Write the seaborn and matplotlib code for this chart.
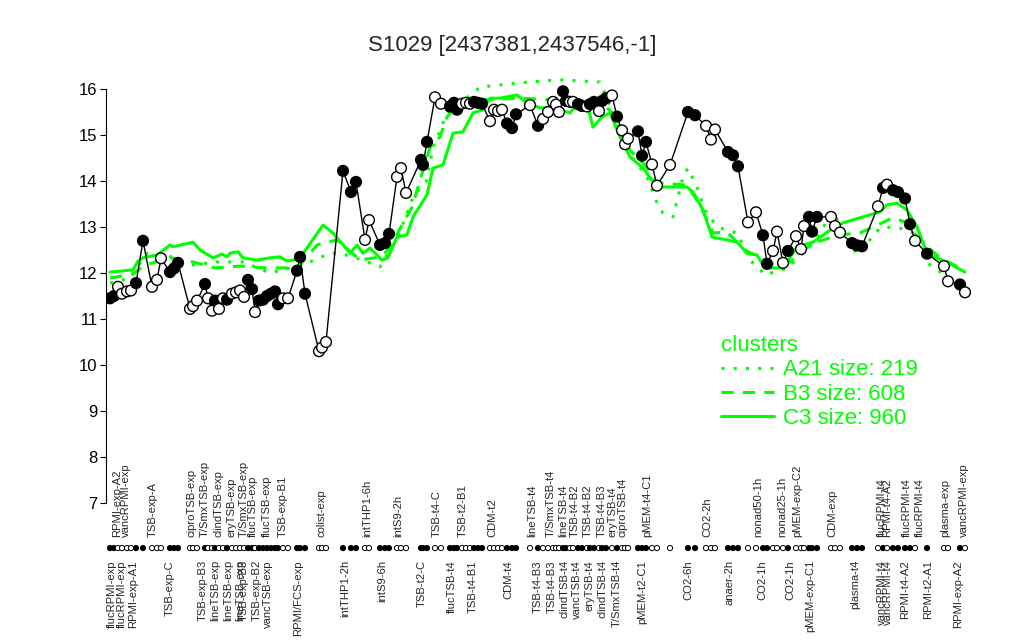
import matplotlib
matplotlib.use("Agg")
import matplotlib.pyplot as plt
import seaborn as sns
import pandas as pd
from matplotlib.lines import Line2D

sns.set_theme(style="white")
plt.rcParams['font.family'] = ['Liberation Sans', 'DejaVu Sans']

# ---------------- data ----------------
sample_pos = [0.0, 0.8, 1.6, 2.4, 3.4, 4.2, 5.2, 6.6, 8.4, 9.4, 10.2, 12.0, 12.8, 13.6,
              16.0, 16.6, 17.4, 19.0, 19.6, 20.4, 21.0, 21.8, 22.6, 23.4, 24.4, 25.2, 26.0,
              26.8, 27.6, 28.4, 29.0, 29.8, 30.6, 31.4, 32.2, 33.0, 33.6, 34.6, 35.6, 37.4,
              38.0, 39.0, 41.8, 42.4, 43.2, 46.6, 48.2, 49.2, 51.0, 51.8, 54.0, 55.0, 55.8,
              57.4, 58.2, 59.2, 62.2, 62.6, 63.4, 65.0, 66.2, 68.0, 68.8, 69.4, 70.4, 71.2,
              72.0, 72.8, 73.6, 74.4, 76.0, 76.8, 77.6, 78.4, 79.4, 80.4, 81.2, 84.0, 85.6,
              86.6, 87.6, 88.6, 89.2, 89.8, 90.6, 91.2, 92.0, 92.6, 93.6, 94.4, 95.4, 96.0,
              96.8, 97.8, 98.4, 99.2, 100.4, 101.4, 102.4, 103.0, 103.6, 105.6, 106.4, 107.2,
              108.4, 109.4, 112.0, 115.6, 117.0, 119.2, 120.2, 121.0, 123.6, 124.6, 125.6,
              127.6, 129.2, 130.6, 131.4, 132.6, 133.4, 134.6, 135.6, 137.2, 138.2, 138.8,
              139.8, 140.4, 141.4, 144.2, 145.0, 146.0, 148.4, 149.4, 150.4, 153.6, 154.6,
              155.4, 156.6, 157.6, 159.0, 160.0, 161.0, 163.4, 166.8, 167.6, 170.0, 171.0]
sample_val = [11.45, 11.50, 11.70, 11.55, 11.60, 11.62, 11.78, 12.70, 11.70, 11.85, 12.32,
              12.02, 12.10, 12.22, 11.22, 11.28, 11.40, 11.76, 11.45, 11.18, 11.40, 11.22,
              11.45, 11.42, 11.55, 11.58, 11.62, 11.48, 11.85, 11.65, 11.15, 11.40, 11.42,
              11.50, 11.55, 11.60, 11.32, 11.45, 11.45, 12.05, 12.35, 11.55, 10.30, 10.38,
              10.50, 14.22, 13.76, 13.98, 12.72, 13.15, 12.61, 12.65, 12.85, 14.09, 14.28,
              13.74, 14.46, 14.35, 14.85, 15.82, 15.68, 15.62, 15.70, 15.55, 15.68, 15.70,
              15.68, 15.72, 15.70, 15.68, 15.30, 15.55, 15.52, 15.55, 15.25, 15.15, 15.45,
              15.65, 15.20, 15.35, 15.50, 15.72, 15.66, 15.50, 15.95, 15.74, 15.72, 15.72,
              15.67, 15.63, 15.62, 15.67, 15.72, 15.52, 15.74, 15.80, 15.86, 15.40, 15.10,
              14.80, 14.92, 15.08, 14.55, 14.85, 14.36, 13.90, 14.35, 15.50, 15.43, 15.20,
              14.90, 15.12, 14.63, 14.56, 14.32, 13.10, 13.32, 12.82, 12.20, 12.48, 12.90,
              12.22, 12.48, 12.80, 12.52, 13.02, 13.22, 12.90, 13.22, 13.22, 13.02, 12.88,
              12.65, 12.60, 12.58, 13.45, 13.85, 13.92, 13.80, 13.76, 13.62, 13.06, 12.70,
              12.42, 12.15, 11.82, 11.75, 11.58]
sample_filled = [1, 1, 0, 0, 0, 0, 1, 1, 0, 0, 0, 1, 1, 1,
                 0, 0, 0, 1, 0, 0, 1, 0, 0, 1, 0, 0, 0,
                 0, 1, 1, 0, 1, 1, 1, 1, 1, 1, 0, 0, 1,
                 1, 1, 0, 0, 0, 1, 1, 1, 0, 0, 1, 1, 1,
                 0, 0, 0, 1, 1, 1, 0, 0, 1, 1, 1, 0, 0,
                 0, 1, 1, 1, 0, 0, 0, 0, 1, 1, 1, 0, 1,
                 0, 0, 0, 0, 0, 1, 1, 0, 0, 1, 1, 0, 1,
                 1, 0, 1, 1, 0, 1, 0, 0, 0, 1, 1, 1,
                 0, 0, 0, 1, 1, 0, 0, 0, 1, 1, 1,
                 0, 0, 1, 1, 0, 0, 0, 1, 0, 0, 0,
                 1, 1, 1, 0, 0, 0, 1, 1, 1, 0, 1,
                 0, 1, 1, 1, 1, 0, 1, 0, 0, 1, 0]

bottom_labels = ["flucRPMI-exp", "flucRPMI-exp", "RPMI-exp-A1", "TSB-exp-C", "TSB-exp-B3",
                 "lineTSB-exp", "lineTSB-exp", "lineTSB-exp", "TSB-exp-B3", "TSB-exp-B2",
                 "vancTSB-exp", "RPMI/FCS-exp", "intTHP1-2h", "intS9-6h", "TSB-t2-C",
                 "flucTSB-t4", "TSB-t4-B1", "CDM-t4", "TSB-t4-B3", "TSB-t4-B3", "clindTSB-t4",
                 "vancTSB-t4", "eryTSB-t4", "clindTSB-t4", "T/SmxTSB-t4", "pMEM-t2-C1",
                 "CO2-6h", "anaer-2h", "CO2-1h", "CO2-1h", "pMEM-exp-C1", "plasma-t4",
                 "vancRPMI-t4", "vancRPMI-t4", "RPMI-t4-A2", "RPMI-t2-A1", "RPMI-exp-A2"]
bottom_pos = [0.4, 2.4, 4.6, 12.0, 18.6, 21.0, 23.6, 26.0, 26.8, 29.4, 31.6, 37.6, 47.0,
              54.4, 62.4, 68.4, 72.6, 79.6, 85.6, 88.4, 91.0, 93.4, 96.0, 98.6, 101.4,
              106.4, 115.6, 124.0, 130.4, 136.0, 140.0, 149.0, 154.4, 155.6, 159.0, 163.6,
              169.6]
top_labels = ["RPMI-exp-A2", "vancRPMI-exp", "TSB-exp-A", "ciproTSB-exp", "T/SmxTSB-exp",
              "clindTSB-exp", "eryTSB-exp", "T/SmxTSB-exp", "flucTSB-exp", "flucTSB-exp",
              "TSB-exp-B1", "colist-exp", "intTHP1-6h", "intS9-2h", "TSB-t4-C", "TSB-t2-B1",
              "CDM-t2", "lineTSB-t4", "T/SmxTSB-t4", "lineTSB-t4", "TSB-t4-B2", "TSB-t4-B2",
              "TSB-t4-B3", "eryTSB-t4", "ciproTSB-t4", "pMEM-t4-C1", "CO2-2h", "nonad50-1h",
              "nonad25-1h", "pMEM-exp-C2", "CDM-exp", "flucRPMI-t4", "RPMI-t4-A2",
              "flucRPMI-t4", "flucRPMI-t4", "plasma-exp", "vancRPMI-exp"]
top_pos = [1.4, 3.2, 8.6, 16.4, 19.0, 21.6, 24.4, 26.8, 28.6, 31.4, 34.6, 42.4, 51.4, 57.6,
           65.4, 70.6, 76.4, 84.4, 88.2, 90.6, 93.0, 95.6, 98.4, 100.4, 102.4, 107.4, 119.4,
           129.6, 134.4, 137.4, 144.4, 154.4, 155.4, 159.4, 162.0, 167.0, 170.8]

a21_pos = [0, 4, 7.4, 11.4, 16, 21.4, 26.6, 32, 36, 40, 44, 46, 50.6, 54, 58, 60.6, 63.4,
           64.6, 65.4, 67.4, 72.6, 74, 78, 83.4, 90, 98, 100.6, 103.4, 107.4, 109.4, 110.6,
           112.6, 114.6, 115.6, 117.4, 119, 120.4, 122, 125.4, 128, 131, 135.6, 140.6,
           144.6, 149.4, 154, 157.4, 160.6, 164, 168.4]
a21_val = [11.78, 11.89, 12.43, 12.39, 12.17, 12.24, 12.24, 12.00, 12.11, 12.24, 12.43,
           12.43, 12.28, 12.13, 12.89, 13.65, 14.02, 14.74, 14.93, 15.48, 15.91, 16.04,
           16.09, 16.15, 16.20, 16.15, 15.48, 14.67, 14.09, 13.52, 13.30, 13.22, 14.09,
           14.28, 13.87, 13.37, 13.15, 12.98, 12.87, 12.28, 11.96, 12.11, 12.65, 13.33,
           12.39, 12.98, 13.00, 12.87, 12.17, 11.85]
b3_pos = [0, 4.6, 7, 12, 16.6, 21, 26, 31, 36, 38, 41.4, 45.4, 50, 54, 56, 58.6, 60.4, 62,
          64, 66, 67.4, 69.4, 74, 82, 90, 98, 101, 104, 107, 109.4, 115.4, 118, 120.6,
          123.4, 127, 130, 133, 136, 140.6, 146, 150, 153.4, 156.6, 159, 162, 166, 170]
b3_val = [11.89, 11.98, 12.17, 12.33, 12.24, 12.11, 12.15, 12.11, 12.11, 12.17, 12.61,
          12.72, 12.28, 12.35, 12.54, 13.09, 13.43, 14.02, 14.72, 14.96, 15.39, 15.65,
          15.76, 15.80, 15.76, 15.72, 15.43, 14.67, 14.35, 13.96, 13.91, 13.48, 12.87,
          12.89, 12.50, 12.33, 12.17, 12.24, 12.65, 12.83, 12.87, 13.04, 13.20, 13.11,
          12.72, 12.33, 12.11]
c3_pos = [0, 2, 4.6, 5.6, 6.6, 9.4, 12, 12.6, 16.6, 18, 20.6, 22.4, 23.4, 24, 25.6, 26.6,
          29.4, 32, 34, 35.4, 36.6, 38, 42.6, 44.6, 48, 49.4, 50.6, 52, 54.4, 55.6, 57.4,
          59.4, 60.6, 63.4, 64.6, 66.6, 68.6, 70.6, 72.6, 74.4, 76, 78, 81.4, 83.4, 86,
          88.6, 92, 94, 95.4, 96.6, 98.4, 100, 102, 104, 106.6, 109.4, 115.4, 116.6, 118.6,
          120.4, 123.4, 125.4, 127.4, 129.4, 131, 134.6, 137.4, 140.6, 144, 146.6, 154,
          155.4, 157.4, 159.4, 161.4, 163.4, 167.6, 171]
c3_val = [12.02, 12.04, 12.07, 12.26, 12.33, 12.39, 12.61, 12.57, 12.67, 12.50, 12.33,
          12.41, 12.35, 12.43, 12.46, 12.33, 12.28, 12.33, 12.35, 12.26, 12.28, 12.33,
          13.04, 12.87, 12.43, 12.61, 12.43, 12.54, 12.28, 12.33, 12.78, 12.83, 13.22,
          13.70, 14.28, 14.35, 15.04, 15.07, 15.48, 15.54, 15.80, 15.80, 15.87, 15.70,
          15.59, 15.59, 15.48, 15.76, 15.70, 15.17, 15.39, 15.48, 14.96, 14.52, 14.28,
          13.87, 13.87, 13.76, 13.37, 12.78, 12.72, 12.67, 12.43, 12.39, 12.11, 12.11,
          12.57, 12.67, 12.93, 13.09, 13.33, 13.48, 13.52, 13.37, 13.00, 12.43, 12.22,
          12.02]

cluster_labels = ["A21 size: 219", "B3 size: 608", "C3 size: 960"]
title = "S1029 [2437381,2437546,-1]"

# ---------------- figure ----------------
GREEN = "#00ff00"
fig = plt.figure(figsize=(10.24, 6.4), dpi=100)
ax = fig.add_axes([106 / 1024, 1 - 520 / 640, 869 / 1024, 460 / 640])
ax.set_xlim(-0.8, 173)
ax.set_ylim(16 - (520 - 89) / 46, 16 + (89 - 60) / 46)

samples = pd.DataFrame({"pos": sample_pos, "val": sample_val, "filled": sample_filled})

sns.lineplot(x=a21_pos, y=a21_val, ax=ax, color=GREEN, lw=2.2, sort=False, estimator=None)
ax.lines[-1].set_dashes((1, 3))
sns.lineplot(x=b3_pos, y=b3_val, ax=ax, color=GREEN, lw=2.2, sort=False, estimator=None)
ax.lines[-1].set_dashes((4, 3))
sns.lineplot(x=c3_pos, y=c3_val, ax=ax, color=GREEN, lw=2.2, sort=False, estimator=None)

sns.lineplot(data=samples, x="pos", y="val", ax=ax, color="black", lw=1.0,
             sort=False, estimator=None)
sns.scatterplot(data=samples, x="pos", y="val", hue="filled",
                palette={1: "black", 0: "white"}, edgecolor="black", linewidth=1.0,
                s=60, ax=ax, legend=False, zorder=5)

# strip of sample markers below the plot
dot_y = 6.02
strip = samples.assign(strip=dot_y)
sns.scatterplot(data=strip, x="pos", y="strip", hue="filled",
                palette={1: "black", 0: "white"}, edgecolor="black", linewidth=0.7,
                s=14, ax=ax, legend=False)
ax.collections[-1].set_clip_on(False)

for lab, p in zip(top_labels, top_pos):
    ax.text(p, 6.26, lab, rotation=90, ha="center", va="bottom", fontsize=8.1,
            clip_on=False)
for lab, p in zip(bottom_labels, bottom_pos):
    ax.text(p, 5.76, lab, rotation=90, ha="center", va="top", fontsize=8.1,
            clip_on=False)

# axes styling
for s in ["top", "right", "bottom"]:
    ax.spines[s].set_visible(False)
ax.spines["left"].set_bounds(7, 16)
ax.spines["left"].set_color("black")
ax.spines["left"].set_linewidth(0.8)
ax.set_yticks(range(7, 17))
ax.set_xticks([])
ax.tick_params(axis="y", length=4, width=0.8, pad=2, labelsize=12, colors="black",
               left=True)
ax.set_xlabel("")
ax.set_ylabel("")
fig.text(512 / 1024, 1 - 45 / 640, title, fontsize=16, ha="center", va="center")

handles = [Line2D([], [], color=GREEN, lw=2.2, dashes=(1, 3)),
           Line2D([], [], color=GREEN, lw=2.2, dashes=(4, 3)),
           Line2D([], [], color=GREEN, lw=2.2)]
leg = ax.legend(handles, cluster_labels, title="clusters", frameon=False,
                loc="upper left", bbox_to_anchor=(710 / 1024, 1 - 324 / 640),
                bbox_transform=fig.transFigure, fontsize=16, title_fontsize=16,
                handlelength=2.4, handletextpad=0.4, labelspacing=0.15, borderpad=0,
                alignment="left")
for t in leg.get_texts():
    t.set_color(GREEN)
leg.get_title().set_color(GREEN)

fig.savefig("out.png", dpi=100)
